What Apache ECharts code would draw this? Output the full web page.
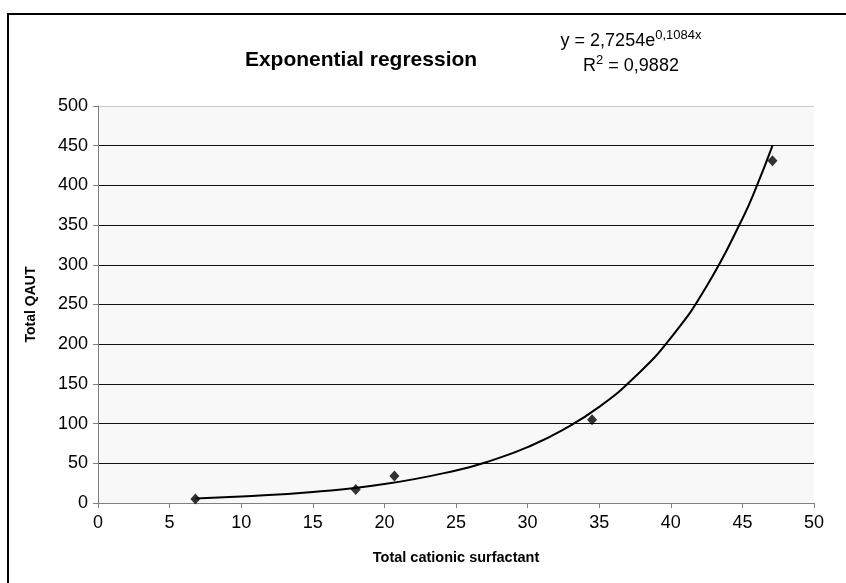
<!DOCTYPE html>
<html>
<head>
<meta charset="utf-8">
<script src="https://cdn.jsdelivr.net/npm/echarts@6/dist/echarts.min.js"></script>
<style>
  html, body { margin: 0; padding: 0; background: #fff; }
  #chart { width: 846px; height: 583px; }
</style>
</head>
<body>
<div id="chart"></div>
<script>
// Observed points (Total cationic surfactant, Total QAUT)
const pointsX = [6.8, 18.0, 20.7, 34.5, 47.1];
const pointsY = [5, 17, 34, 105, 431];

// Trend line
const trendX = [6.8, 10, 15, 20, 25, 27.5, 30, 32.5, 35, 37.5, 40, 42.5, 45, 46, 47.1];
const trendY = [5.7, 8.1, 13.9, 23.8, 41, 53.7, 70.4, 92.4, 121, 159, 208, 273, 358, 399, 450];

const yLines = ['#111', '#111', '#111', '#111', '#111', '#111', '#111', '#111', '#111', '#111', '#c8c8c8'];

const font = '"Liberation Sans", Arial, sans-serif';

const chart = echarts.init(document.getElementById('chart'), null, { renderer: 'canvas' });

const option = {
    animation: false,
    backgroundColor: '#fff',
    textStyle: { fontFamily: font },
    title: {
        text: 'Exponential regression',
        left: 356,
        top: 45,
        textAlign: 'center',
        textStyle: { fontFamily: font, fontSize: 21, fontWeight: 'bold', color: '#000' }
    },
    graphic: [
        {
            type: 'rect',
            shape: { x: 8, y: 14, width: 900, height: 700 },
            style: { fill: null, stroke: '#000', lineWidth: 2 },
            silent: true
        },
        {
            type: 'text',
            x: 631,
            y: 29,
            style: {
                text: '{a|y = 2,7254e}{s|0,1084x}\n{a|R}{s|2}{a| = 0,9882}',
                align: 'center',
                fontFamily: font,
                rich: {
                    a: { fontFamily: font, fontSize: 18, color: '#000', lineHeight: 25 },
                    s: { fontFamily: font, fontSize: 13, color: '#000', verticalAlign: 'top', padding: [0, 0, 9, 0] }
                }
            }
        }
    ],
    grid: {
        left: 98,
        top: 106,
        right: 32,
        bottom: 80,
        show: true,
        backgroundColor: '#f8f8f8',
        borderWidth: 0
    },
    xAxis: {
        type: 'value',
        min: 0,
        max: 50,
        interval: 5,
        name: 'Total cationic surfactant',
        nameLocation: 'middle',
        nameGap: 47,
        nameTextStyle: { fontFamily: font, fontSize: 14.5, fontWeight: 'bold', color: '#000' },
        axisLine: { lineStyle: { color: '#808080', width: 1 } },
        axisTick: { show: true, inside: false, length: 5, lineStyle: { color: '#808080' } },
        axisLabel: { fontFamily: font, fontSize: 18, color: '#000', margin: 11 },
        splitLine: { show: false }
    },
    yAxis: {
        type: 'value',
        min: 0,
        max: 500,
        interval: 50,
        name: 'Total QAUT',
        nameLocation: 'middle',
        nameGap: 60,
        nameTextStyle: { fontFamily: font, fontSize: 14, fontWeight: 'bold', color: '#000' },
        axisLine: { show: true, lineStyle: { color: '#808080', width: 1 } },
        axisTick: { show: true, inside: false, length: 5, lineStyle: { color: '#808080' } },
        axisLabel: { fontFamily: font, fontSize: 18, color: '#000', margin: 10 },
        splitLine: { show: true, lineStyle: { color: yLines, width: 1 } }
    },
    series: [
        {
            name: 'Trend',
            type: 'line',
            data: trendX.map((x, i) => [x, trendY[i]]),
            smooth: true,
            showSymbol: false,
            lineStyle: { color: '#000', width: 2 },
            z: 2
        },
        {
            name: 'Total QAUT',
            type: 'scatter',
            data: pointsX.map((x, i) => [x, pointsY[i]]),
            symbol: 'diamond',
            symbolSize: [10, 11],
            itemStyle: { color: '#000' },
            z: 3
        }
    ]
};

chart.setOption(option);
</script>
</body>
</html>
